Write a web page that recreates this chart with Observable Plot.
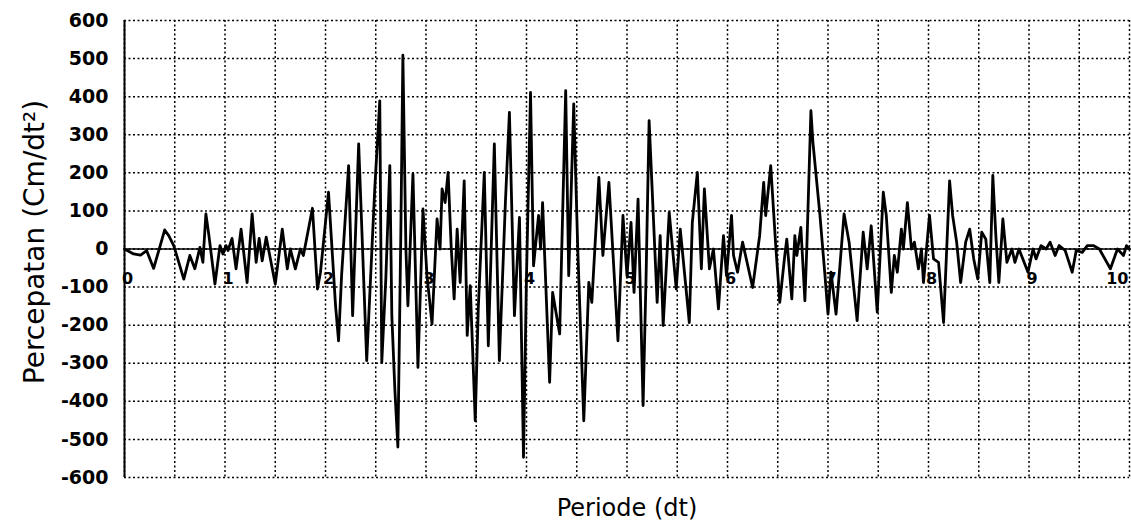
<!DOCTYPE html>
<html><head><meta charset="utf-8">
<script src="https://cdn.jsdelivr.net/npm/d3@7"></script>
<script src="https://cdn.jsdelivr.net/npm/@observablehq/plot@0.6"></script>
<style>body{margin:0;background:#fff} svg{display:block}</style>
</head><body><div id="chart"></div>
<script>
const periode = [0.00,0.09,0.16,0.22,0.29,0.40,0.44,0.49,0.59,0.65,0.70,0.75,0.78,0.81,0.84,0.90,0.95,0.98,1.01,1.03,1.07,1.11,1.16,1.22,1.27,1.31,1.34,1.37,1.41,1.50,1.57,1.62,
1.65,1.70,1.75,1.78,1.87,1.92,1.95,2.03,2.10,2.13,2.16,2.23,2.27,2.33,2.41,2.49,2.54,2.56,2.60,2.64,2.66,2.69,2.72,2.75,2.77,2.80,2.82,2.87,2.92,2.97,3.01,3.06,3.11,3.14,3.16,3.19,3.22,3.25,3.28,3.31,
3.34,3.38,3.41,3.44,3.49,3.52,3.58,3.62,3.68,3.73,3.79,3.83,3.88,3.93,3.97,4.00,4.04,4.07,4.12,4.14,4.16,4.23,4.26,4.33,4.39,4.42,4.47,4.51,4.57,4.62,4.65,4.72,4.76,4.82,4.91,
4.96,5.00,5.04,5.07,5.11,5.16,5.19,5.22,5.25,5.30,5.33,5.36,5.42,5.49,5.53,5.62,5.65,5.70,5.74,5.77,5.82,5.86,5.91,5.96,5.99,6.04,6.06,6.10,6.15,6.25,6.32,6.36,6.38,6.43,6.48,6.52,6.57,6.59,
6.64,6.67,6.69,6.73,6.77,6.79,6.83,6.85,6.92,6.97,7.00,7.03,7.08,7.16,7.21,7.29,7.35,7.39,7.43,7.49,7.55,7.58,7.63,7.66,7.69,7.73,7.75,7.79,7.83,7.86,7.90,7.93,7.95,8.01,8.05,8.10,8.15,8.21,8.24,
8.28,8.32,8.37,8.41,8.45,8.49,8.53,8.57,8.61,8.64,8.67,8.70,8.74,8.78,8.83,8.86,8.90,8.99,9.04,9.07,9.12,9.17,9.21,9.26,9.30,9.36,9.43,9.47,9.53,9.58,9.64,9.70,9.81,9.88,9.94,9.97,10.00];
const percepatan = [0,-13,-16,-4,-51,50,35,9,-79,-17,-52,4,-35,92,35,-92,9,-13,9,-4,28,-52,52,-88,92,-35,28,-31,31,-92,52,-52,
0,-52,0,-17,107,-105,-61,149,-149,-241,-70,219,-175,276,-293,158,389,-298,-79,219,-175,-368,-520,52,509,0,-149,197,-311,105,-70,-197,79,0,158,122,201,9,-131,52,
-88,179,-227,-96,-451,-157,201,-254,276,-293,122,359,-175,83,-547,-70,411,-44,88,0,122,-350,-114,-223,416,-70,381,0,-451,-88,-140,188,-17,175,-241,
88,-70,70,-114,131,-411,-70,337,158,-140,35,-201,96,-105,52,-193,70,201,-52,158,-52,0,-157,35,-70,88,-17,-61,18,-101,35,175,88,219,9,-140,-17,26,
-131,35,-17,57,-136,9,363,280,88,-70,-171,-61,-171,92,18,-188,44,-52,61,-166,149,88,-114,-17,-61,52,0,122,0,18,-52,0,-88,88,-26,-35,-193,179,88,
18,-88,18,52,-26,-79,44,26,-88,193,35,-88,79,-35,0,-35,0,-61,0,-26,9,0,18,-17,9,-4,-61,-4,-9,9,9,0,-52,0,-17,9,0];
const yTicks = [-600,-500,-400,-300,-200,-100,0,100,200,300,400,500,600];
const xLabels = [0,1,2,3,4,5,6,7,8,9];
const xLastLabel = [10];
const xGrid = [0,0.5,1,1.5,2,2.5,3,3.5,4,4.5,5,5.5,6,6.5,7,7.5,8,8.5,9,9.5,10];
const xTitle = "Periode (dt)";
const yTitle = "Percepatan (Cm/dt²)";

const data = periode.map((t, i) => ({t, a: percepatan[i]}));
const dotted = {stroke: "#000", strokeWidth: 1.5, strokeDasharray: "2,2.5"};

const chart = Plot.plot({
  width: 1131, height: 532,
  marginLeft: 124, marginRight: 2, marginTop: 20, marginBottom: 55,
  style: {fontFamily: "DejaVu Sans", background: "#fff", color: "#000"},
  x: {domain: [0, 10], axis: null},
  y: {domain: [-600, 600], label: null},
  marks: [
    Plot.ruleX(xGrid, dotted),
    Plot.ruleY(yTicks, dotted),
    Plot.ruleX([0], {stroke: "#000", strokeWidth: 2}),
    Plot.ruleY([0], {stroke: "#000", strokeWidth: 1.6}),
    Plot.line(data, {x: "t", y: "a", stroke: "#000", strokeWidth: 2.8, strokeLinejoin: "round"}),
    Plot.axisY(yTicks, {tickSize: 0, tickPadding: 16, fontSize: 19, fontWeight: "bold", label: null, tickFormat: d => String(d)}),
    Plot.text(xLabels, {x: d => d, y: 0, text: d => String(d), dx: 3, dy: 30, fontSize: 16, fontWeight: "bold"}),
    Plot.text(xLastLabel, {x: d => d, y: 0, text: d => String(d), textAnchor: "end", dx: -1, dy: 30, fontSize: 16, fontWeight: "bold"}),
    Plot.text([xTitle], {frameAnchor: "bottom", dy: 38, fontSize: 24}),
    Plot.text([yTitle], {frameAnchor: "left", textAnchor: "middle", rotate: -90, dx: -89, dy: -7, fontSize: 28})
  ]
});
document.getElementById("chart").appendChild(chart);
</script></body></html>
